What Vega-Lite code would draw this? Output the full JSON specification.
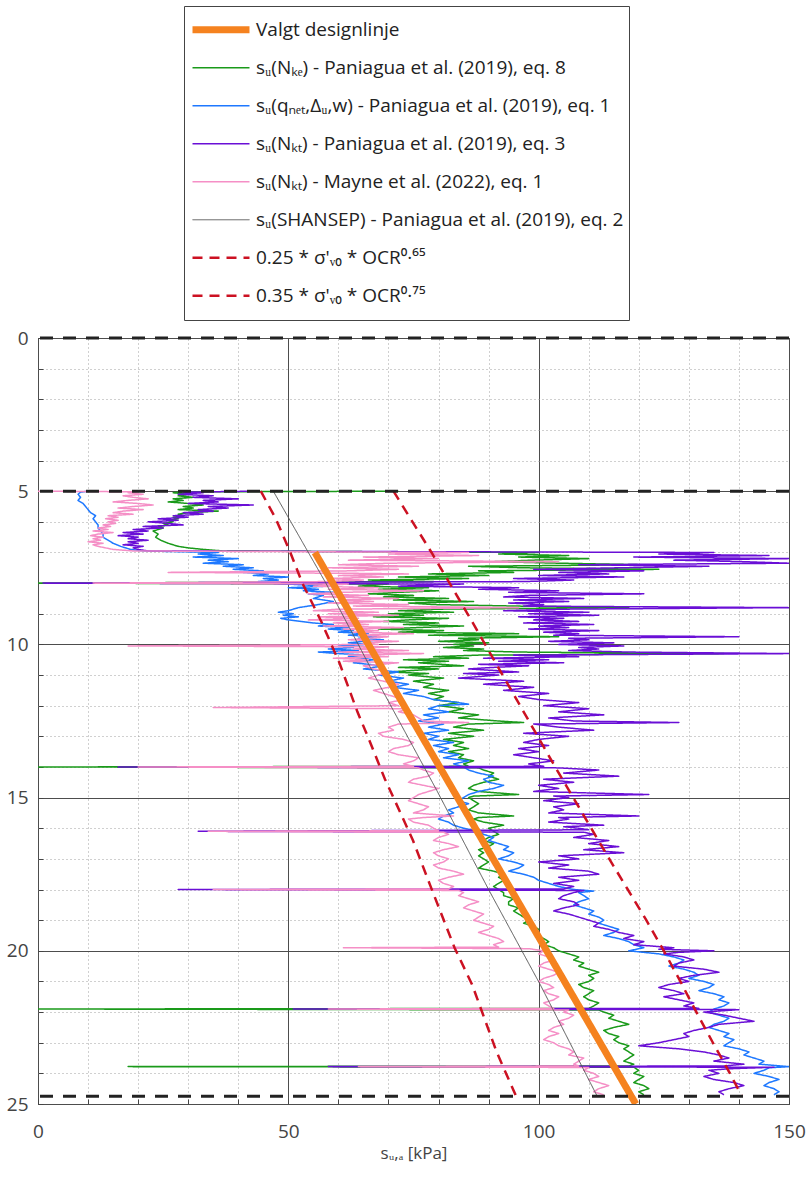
{
"$schema": "https://vega.github.io/schema/vega-lite/v6.json",
"width": 751,
"height": 766,
"autosize": {"type": "none"},
"padding": {"left": 38, "top": 338, "right": 17, "bottom": 76},
"background": "white",
"config": {
  "font": "Open Sans",
  "view": {"stroke": "#333333", "strokeWidth": 1},
  "legend": {"orient": "none", "legendX": 146, "legendY": -332, "title": null, "symbolType": "stroke", "symbolSize": 3249, "clipHeight": 37.5, "rowPadding": 0, "labelFontSize": 19, "labelColor": "#222222", "labelFont": "Open Sans", "labelOffset": 3, "labelLimit": 600, "strokeColor": "#444444", "fillColor": "white", "padding": 5}
},
"datasets": {
"levels": [{"depth": 0}, {"depth": 5}, {"depth": 24.75}],
"curves": [
{"series":"a","depth":7,"su":55.3},{"series":"a","depth":25,"su":119.4},
{"series":"f","depth":5,"su":47},{"series":"f","depth":8,"su":57.5},{"series":"f","depth":11.5,"su":68.8},{"series":"f","depth":14.75,"su":79.6},{"series":"f","depth":18,"su":90},{"series":"f","depth":21.1,"su":100.3},{"series":"f","depth":24.75,"su":111.7},
{"series":"g","depth":5,"su":44.5},{"series":"g","depth":5.9,"su":47.5},{"series":"g","depth":7,"su":50.4},{"series":"g","depth":8,"su":52.8},{"series":"g","depth":9.26,"su":56.6},{"series":"g","depth":10.6,"su":60.2},{"series":"g","depth":12.2,"su":63.8},{"series":"g","depth":13.06,"su":66},{"series":"g","depth":14.4,"su":69.3},{"series":"g","depth":15,"su":71},{"series":"g","depth":16.4,"su":74.9},{"series":"g","depth":17.85,"su":78.3},{"series":"g","depth":19.9,"su":83.2},{"series":"g","depth":21.1,"su":86.7},{"series":"g","depth":23.3,"su":91.6},{"series":"g","depth":24.75,"su":95.5},
{"series":"h","depth":5,"su":71},{"series":"h","depth":6,"su":74.8},{"series":"h","depth":7,"su":78.6},{"series":"h","depth":8,"su":82.2},{"series":"h","depth":9,"su":85.8},{"series":"h","depth":10,"su":89.3},{"series":"h","depth":11,"su":92.8},{"series":"h","depth":12,"su":96.3},{"series":"h","depth":13,"su":99.8},{"series":"h","depth":14,"su":103.3},{"series":"h","depth":15,"su":106.9},{"series":"h","depth":16,"su":110.5},{"series":"h","depth":17,"su":114.1},{"series":"h","depth":18,"su":117.8},{"series":"h","depth":19,"su":121.5},{"series":"h","depth":20,"su":125},{"series":"h","depth":21,"su":128.3},{"series":"h","depth":22,"su":131.5},{"series":"h","depth":23,"su":134.8},{"series":"h","depth":24,"su":138.2},{"series":"h","depth":24.75,"su":140.6},

{"series":"b","depth":5,"su":72},{"series":"b","depth":5.02,"su":29},{"series":"b","depth":5.05,"su":27},{"series":"b","depth":5.1,"su":30},{"series":"b","depth":5.15,"su":28},{"series":"b","depth":5.2,"su":31},{"series":"b","depth":5.25,"su":27},{"series":"b","depth":5.3,"su":29},{"series":"b","depth":5.35,"su":26},{"series":"b","depth":5.4,"su":30},{"series":"b","depth":5.45,"su":33},{"series":"b","depth":5.5,"su":29},{"series":"b","depth":5.55,"su":31},{"series":"b","depth":5.6,"su":28},{"series":"b","depth":5.65,"su":36},{"series":"b","depth":5.7,"su":30},{"series":"b","depth":5.75,"su":28},{"series":"b","depth":5.8,"su":29},{"series":"b","depth":5.85,"su":27},{"series":"b","depth":5.9,"su":28},{"series":"b","depth":5.95,"su":26},{"series":"b","depth":6,"su":27},{"series":"b","depth":6.05,"su":25},{"series":"b","depth":6.1,"su":26},{"series":"b","depth":6.15,"su":24},{"series":"b","depth":6.2,"su":25},{"series":"b","depth":6.25,"su":24},{"series":"b","depth":6.3,"su":23},{"series":"b","depth":6.4,"su":24},{"series":"b","depth":6.5,"su":23.5},{"series":"b","depth":6.6,"su":24.5},{"series":"b","depth":6.7,"su":26},{"series":"b","depth":6.8,"su":28},{"series":"b","depth":6.85,"su":30},{"series":"b","depth":6.9,"su":33},{"series":"b","depth":6.95,"su":37},{"series":"b","depth":7,"su":100},{"series":"b","depth":7.05,"su":92},{"series":"b","depth":7.1,"su":106},{"series":"b","depth":7.15,"su":96},{"series":"b","depth":7.2,"su":110},{"series":"b","depth":7.25,"su":99},{"series":"b","depth":7.3,"su":91},{"series":"b","depth":7.35,"su":104},{"series":"b","depth":7.4,"su":121},{"series":"b","depth":7.45,"su":86},{"series":"b","depth":7.5,"su":97},{"series":"b","depth":7.55,"su":124},{"series":"b","depth":7.6,"su":88},{"series":"b","depth":7.65,"su":95},{"series":"b","depth":7.7,"su":78},{"series":"b","depth":7.75,"su":90},{"series":"b","depth":7.8,"su":72},{"series":"b","depth":7.85,"su":86},{"series":"b","depth":7.9,"su":66},{"series":"b","depth":7.95,"su":79},{"series":"b","depth":8,"su":0},{"series":"b","depth":8.03,"su":70},{"series":"b","depth":8.1,"su":64},{"series":"b","depth":8.15,"su":78},{"series":"b","depth":8.2,"su":68},{"series":"b","depth":8.25,"su":80},{"series":"b","depth":8.3,"su":72},{"series":"b","depth":8.35,"su":66},{"series":"b","depth":8.4,"su":75},{"series":"b","depth":8.45,"su":69},{"series":"b","depth":8.5,"su":82},{"series":"b","depth":8.55,"su":71},{"series":"b","depth":8.6,"su":87},{"series":"b","depth":8.65,"su":74},{"series":"b","depth":8.7,"su":79},{"series":"b","depth":8.75,"su":96},{"series":"b","depth":8.8,"su":118},{"series":"b","depth":8.85,"su":80},{"series":"b","depth":8.9,"su":72},{"series":"b","depth":8.95,"su":83},{"series":"b","depth":9,"su":70},{"series":"b","depth":9.05,"su":77},{"series":"b","depth":9.1,"su":67},{"series":"b","depth":9.15,"su":82},{"series":"b","depth":9.2,"su":74},{"series":"b","depth":9.25,"su":69},{"series":"b","depth":9.3,"su":80},{"series":"b","depth":9.35,"su":73},{"series":"b","depth":9.4,"su":85},{"series":"b","depth":9.45,"su":76},{"series":"b","depth":9.5,"su":68},{"series":"b","depth":9.55,"su":81},{"series":"b","depth":9.6,"su":72},{"series":"b","depth":9.65,"su":96},{"series":"b","depth":9.7,"su":78},{"series":"b","depth":9.75,"su":104},{"series":"b","depth":9.8,"su":84},{"series":"b","depth":9.85,"su":88},{"series":"b","depth":9.9,"su":80},{"series":"b","depth":9.95,"su":90},{"series":"b","depth":10,"su":83},{"series":"b","depth":10.05,"su":87},{"series":"b","depth":10.1,"su":81},{"series":"b","depth":10.15,"su":89},{"series":"b","depth":10.2,"su":85},{"series":"b","depth":10.25,"su":96},{"series":"b","depth":10.3,"su":137},{"series":"b","depth":10.35,"su":88},{"series":"b","depth":10.4,"su":79},{"series":"b","depth":10.45,"su":86},{"series":"b","depth":10.5,"su":73},{"series":"b","depth":10.55,"su":82},{"series":"b","depth":10.6,"su":76},{"series":"b","depth":10.7,"su":85},{"series":"b","depth":10.75,"su":72},{"series":"b","depth":10.8,"su":80},{"series":"b","depth":10.9,"su":70},{"series":"b","depth":10.95,"su":78},{"series":"b","depth":11,"su":74},{"series":"b","depth":11.1,"su":81},{"series":"b","depth":11.2,"su":75},{"series":"b","depth":11.3,"su":79},{"series":"b","depth":11.4,"su":77},{"series":"b","depth":11.5,"su":82},{"series":"b","depth":11.6,"su":78},{"series":"b","depth":11.7,"su":81},{"series":"b","depth":11.8,"su":79},{"series":"b","depth":11.9,"su":84},{"series":"b","depth":12,"su":80},{"series":"b","depth":12.1,"su":85},{"series":"b","depth":12.2,"su":82},{"series":"b","depth":12.3,"su":88},{"series":"b","depth":12.4,"su":84},{"series":"b","depth":12.5,"su":92},{"series":"b","depth":12.55,"su":97},{"series":"b","depth":12.6,"su":86},{"series":"b","depth":12.7,"su":83},{"series":"b","depth":12.8,"su":89},{"series":"b","depth":12.9,"su":82},{"series":"b","depth":13,"su":87},{"series":"b","depth":13.1,"su":81},{"series":"b","depth":13.2,"su":85},{"series":"b","depth":13.3,"su":83},{"series":"b","depth":13.4,"su":86},{"series":"b","depth":13.5,"su":82},{"series":"b","depth":13.6,"su":85},{"series":"b","depth":13.7,"su":84},{"series":"b","depth":13.8,"su":87},{"series":"b","depth":13.9,"su":85},{"series":"b","depth":13.98,"su":86},{"series":"b","depth":14,"su":0},{"series":"b","depth":14.03,"su":88},{"series":"b","depth":14.1,"su":89},{"series":"b","depth":14.2,"su":91},{"series":"b","depth":14.3,"su":90},{"series":"b","depth":14.4,"su":92},{"series":"b","depth":14.5,"su":89},{"series":"b","depth":14.6,"su":87},{"series":"b","depth":14.7,"su":86},{"series":"b","depth":14.8,"su":88},{"series":"b","depth":14.9,"su":96},{"series":"b","depth":14.95,"su":87},{"series":"b","depth":15,"su":86},{"series":"b","depth":15.1,"su":87},{"series":"b","depth":15.2,"su":88},{"series":"b","depth":15.3,"su":87},{"series":"b","depth":15.4,"su":86},{"series":"b","depth":15.5,"su":88},{"series":"b","depth":15.6,"su":95},{"series":"b","depth":15.65,"su":88},{"series":"b","depth":15.7,"su":87},{"series":"b","depth":15.8,"su":89},{"series":"b","depth":15.9,"su":93},{"series":"b","depth":16,"su":90},{"series":"b","depth":16.1,"su":91},{"series":"b","depth":16.2,"su":92},{"series":"b","depth":16.3,"su":90},{"series":"b","depth":16.4,"su":89},{"series":"b","depth":16.5,"su":91},{"series":"b","depth":16.6,"su":90},{"series":"b","depth":16.7,"su":88},{"series":"b","depth":16.8,"su":89},{"series":"b","depth":16.9,"su":88},{"series":"b","depth":17,"su":89},{"series":"b","depth":17.1,"su":90},{"series":"b","depth":17.2,"su":89},{"series":"b","depth":17.3,"su":88},{"series":"b","depth":17.4,"su":91},{"series":"b","depth":17.5,"su":93},{"series":"b","depth":17.6,"su":92},{"series":"b","depth":17.7,"su":93},{"series":"b","depth":17.8,"su":92},{"series":"b","depth":17.9,"su":91},{"series":"b","depth":18,"su":92},{"series":"b","depth":18.1,"su":93},{"series":"b","depth":18.2,"su":93},{"series":"b","depth":18.3,"su":95},{"series":"b","depth":18.4,"su":94},{"series":"b","depth":18.5,"su":94},{"series":"b","depth":18.6,"su":96},{"series":"b","depth":18.7,"su":95},{"series":"b","depth":18.8,"su":96},{"series":"b","depth":18.9,"su":97},{"series":"b","depth":19,"su":98},{"series":"b","depth":19.1,"su":97},{"series":"b","depth":19.2,"su":99},{"series":"b","depth":19.3,"su":100},{"series":"b","depth":19.4,"su":99},{"series":"b","depth":19.5,"su":100},{"series":"b","depth":19.6,"su":101},{"series":"b","depth":19.7,"su":102},{"series":"b","depth":19.8,"su":101},{"series":"b","depth":19.9,"su":103},{"series":"b","depth":20,"su":104},{"series":"b","depth":20.1,"su":106},{"series":"b","depth":20.2,"su":108},{"series":"b","depth":20.3,"su":107},{"series":"b","depth":20.4,"su":109},{"series":"b","depth":20.5,"su":108},{"series":"b","depth":20.6,"su":110},{"series":"b","depth":20.7,"su":112},{"series":"b","depth":20.8,"su":110},{"series":"b","depth":20.9,"su":111},{"series":"b","depth":21,"su":110},{"series":"b","depth":21.1,"su":108},{"series":"b","depth":21.2,"su":109},{"series":"b","depth":21.3,"su":111},{"series":"b","depth":21.4,"su":110},{"series":"b","depth":21.5,"su":109},{"series":"b","depth":21.6,"su":110},{"series":"b","depth":21.7,"su":112},{"series":"b","depth":21.8,"su":111},{"series":"b","depth":21.88,"su":110},{"series":"b","depth":21.9,"su":0},{"series":"b","depth":21.93,"su":112},{"series":"b","depth":22,"su":113},{"series":"b","depth":22.1,"su":115},{"series":"b","depth":22.2,"su":114},{"series":"b","depth":22.3,"su":116},{"series":"b","depth":22.4,"su":118},{"series":"b","depth":22.5,"su":115},{"series":"b","depth":22.6,"su":113},{"series":"b","depth":22.7,"su":114},{"series":"b","depth":22.8,"su":116},{"series":"b","depth":22.9,"su":115},{"series":"b","depth":23,"su":116},{"series":"b","depth":23.1,"su":118},{"series":"b","depth":23.2,"su":117},{"series":"b","depth":23.3,"su":118},{"series":"b","depth":23.4,"su":119},{"series":"b","depth":23.5,"su":118},{"series":"b","depth":23.6,"su":117},{"series":"b","depth":23.7,"su":119},{"series":"b","depth":23.76,"su":118},{"series":"b","depth":23.78,"su":18},{"series":"b","depth":23.8,"su":119},{"series":"b","depth":23.9,"su":120},{"series":"b","depth":24,"su":119},{"series":"b","depth":24.1,"su":121},{"series":"b","depth":24.2,"su":120},{"series":"b","depth":24.3,"su":119},{"series":"b","depth":24.4,"su":121},{"series":"b","depth":24.5,"su":122},{"series":"b","depth":24.6,"su":120},{"series":"b","depth":24.7,"su":121},

{"series":"c","depth":5,"su":10},{"series":"c","depth":5.03,"su":8.5},{"series":"c","depth":5.1,"su":8},{"series":"c","depth":5.2,"su":8.5},{"series":"c","depth":5.3,"su":8},{"series":"c","depth":5.4,"su":9},{"series":"c","depth":5.5,"su":9.5},{"series":"c","depth":5.6,"su":10},{"series":"c","depth":5.7,"su":10.5},{"series":"c","depth":5.8,"su":11.5},{"series":"c","depth":5.9,"su":11},{"series":"c","depth":6,"su":11.5},{"series":"c","depth":6.1,"su":12},{"series":"c","depth":6.2,"su":12},{"series":"c","depth":6.3,"su":12.5},{"series":"c","depth":6.4,"su":13},{"series":"c","depth":6.5,"su":13},{"series":"c","depth":6.6,"su":14},{"series":"c","depth":6.7,"su":15},{"series":"c","depth":6.8,"su":16.5},{"series":"c","depth":6.9,"su":18.5},{"series":"c","depth":6.95,"su":21},{"series":"c","depth":7,"su":36},{"series":"c","depth":7.05,"su":32},{"series":"c","depth":7.1,"su":37},{"series":"c","depth":7.15,"su":31},{"series":"c","depth":7.2,"su":40},{"series":"c","depth":7.25,"su":34},{"series":"c","depth":7.3,"su":38},{"series":"c","depth":7.35,"su":33},{"series":"c","depth":7.4,"su":41},{"series":"c","depth":7.45,"su":37},{"series":"c","depth":7.5,"su":43},{"series":"c","depth":7.55,"su":39},{"series":"c","depth":7.6,"su":45},{"series":"c","depth":7.65,"su":41},{"series":"c","depth":7.7,"su":46},{"series":"c","depth":7.75,"su":43},{"series":"c","depth":7.8,"su":50},{"series":"c","depth":7.85,"su":45},{"series":"c","depth":7.9,"su":48},{"series":"c","depth":7.95,"su":44},{"series":"c","depth":8,"su":47},{"series":"c","depth":8.05,"su":52},{"series":"c","depth":8.1,"su":58},{"series":"c","depth":8.15,"su":50},{"series":"c","depth":8.2,"su":56},{"series":"c","depth":8.25,"su":53},{"series":"c","depth":8.3,"su":59},{"series":"c","depth":8.35,"su":54},{"series":"c","depth":8.4,"su":57},{"series":"c","depth":8.5,"su":55},{"series":"c","depth":8.6,"su":59},{"series":"c","depth":8.7,"su":56},{"series":"c","depth":8.8,"su":52},{"series":"c","depth":8.9,"su":50},{"series":"c","depth":8.95,"su":48},{"series":"c","depth":9,"su":51},{"series":"c","depth":9.05,"su":49},{"series":"c","depth":9.1,"su":52},{"series":"c","depth":9.15,"su":48.5},{"series":"c","depth":9.2,"su":50},{"series":"c","depth":9.3,"su":55},{"series":"c","depth":9.35,"su":59},{"series":"c","depth":9.4,"su":56},{"series":"c","depth":9.45,"su":62},{"series":"c","depth":9.5,"su":58},{"series":"c","depth":9.55,"su":63},{"series":"c","depth":9.6,"su":60},{"series":"c","depth":9.65,"su":66},{"series":"c","depth":9.7,"su":62},{"series":"c","depth":9.75,"su":68},{"series":"c","depth":9.8,"su":64},{"series":"c","depth":9.85,"su":69},{"series":"c","depth":9.9,"su":65},{"series":"c","depth":9.95,"su":62},{"series":"c","depth":10,"su":66},{"series":"c","depth":10.05,"su":60},{"series":"c","depth":10.1,"su":63},{"series":"c","depth":10.15,"su":58},{"series":"c","depth":10.2,"su":64},{"series":"c","depth":10.25,"su":56},{"series":"c","depth":10.3,"su":60},{"series":"c","depth":10.35,"su":66},{"series":"c","depth":10.4,"su":62},{"series":"c","depth":10.5,"su":67},{"series":"c","depth":10.6,"su":63},{"series":"c","depth":10.7,"su":69},{"series":"c","depth":10.8,"su":65},{"series":"c","depth":10.9,"su":72},{"series":"c","depth":11,"su":68},{"series":"c","depth":11.1,"su":73},{"series":"c","depth":11.2,"su":70},{"series":"c","depth":11.3,"su":74},{"series":"c","depth":11.4,"su":71},{"series":"c","depth":11.5,"su":76},{"series":"c","depth":11.6,"su":73},{"series":"c","depth":11.7,"su":77},{"series":"c","depth":11.8,"su":79},{"series":"c","depth":11.9,"su":84},{"series":"c","depth":11.95,"su":86},{"series":"c","depth":12,"su":80},{"series":"c","depth":12.1,"su":78},{"series":"c","depth":12.2,"su":82},{"series":"c","depth":12.3,"su":77},{"series":"c","depth":12.4,"su":80},{"series":"c","depth":12.5,"su":76},{"series":"c","depth":12.6,"su":81},{"series":"c","depth":12.7,"su":78},{"series":"c","depth":12.8,"su":82},{"series":"c","depth":12.9,"su":77},{"series":"c","depth":13,"su":80},{"series":"c","depth":13.1,"su":78},{"series":"c","depth":13.2,"su":83},{"series":"c","depth":13.3,"su":79},{"series":"c","depth":13.4,"su":82},{"series":"c","depth":13.5,"su":80},{"series":"c","depth":13.6,"su":84},{"series":"c","depth":13.7,"su":81},{"series":"c","depth":13.8,"su":86},{"series":"c","depth":13.9,"su":83},{"series":"c","depth":14,"su":85},{"series":"c","depth":14.1,"su":86},{"series":"c","depth":14.2,"su":88},{"series":"c","depth":14.3,"su":91},{"series":"c","depth":14.4,"su":89},{"series":"c","depth":14.5,"su":90},{"series":"c","depth":14.6,"su":93},{"series":"c","depth":14.7,"su":91},{"series":"c","depth":14.8,"su":88},{"series":"c","depth":14.9,"su":86},{"series":"c","depth":15,"su":85},{"series":"c","depth":15.1,"su":84},{"series":"c","depth":15.2,"su":86},{"series":"c","depth":15.3,"su":84},{"series":"c","depth":15.4,"su":82},{"series":"c","depth":15.5,"su":83},{"series":"c","depth":15.6,"su":81},{"series":"c","depth":15.7,"su":80},{"series":"c","depth":15.8,"su":82},{"series":"c","depth":15.9,"su":83},{"series":"c","depth":16,"su":85},{"series":"c","depth":16.1,"su":88},{"series":"c","depth":16.2,"su":89},{"series":"c","depth":16.3,"su":91},{"series":"c","depth":16.4,"su":90},{"series":"c","depth":16.5,"su":92},{"series":"c","depth":16.6,"su":94},{"series":"c","depth":16.7,"su":93},{"series":"c","depth":16.8,"su":95},{"series":"c","depth":16.9,"su":94},{"series":"c","depth":17,"su":92},{"series":"c","depth":17.1,"su":95},{"series":"c","depth":17.2,"su":97},{"series":"c","depth":17.3,"su":96},{"series":"c","depth":17.4,"su":94},{"series":"c","depth":17.5,"su":97},{"series":"c","depth":17.6,"su":99},{"series":"c","depth":17.7,"su":100},{"series":"c","depth":17.8,"su":102},{"series":"c","depth":17.9,"su":104},{"series":"c","depth":18,"su":107},{"series":"c","depth":18.05,"su":111},{"series":"c","depth":18.1,"su":108},{"series":"c","depth":18.2,"su":109},{"series":"c","depth":18.3,"su":110},{"series":"c","depth":18.4,"su":108},{"series":"c","depth":18.5,"su":107},{"series":"c","depth":18.6,"su":109},{"series":"c","depth":18.7,"su":111},{"series":"c","depth":18.8,"su":110},{"series":"c","depth":18.9,"su":112},{"series":"c","depth":19,"su":113},{"series":"c","depth":19.1,"su":112},{"series":"c","depth":19.2,"su":114},{"series":"c","depth":19.3,"su":116},{"series":"c","depth":19.4,"su":115},{"series":"c","depth":19.5,"su":113},{"series":"c","depth":19.6,"su":116},{"series":"c","depth":19.7,"su":118},{"series":"c","depth":19.8,"su":119},{"series":"c","depth":19.9,"su":121},{"series":"c","depth":20,"su":118},{"series":"c","depth":20.1,"su":124},{"series":"c","depth":20.2,"su":127},{"series":"c","depth":20.3,"su":129},{"series":"c","depth":20.4,"su":128},{"series":"c","depth":20.5,"su":126},{"series":"c","depth":20.6,"su":129},{"series":"c","depth":20.7,"su":131},{"series":"c","depth":20.8,"su":132},{"series":"c","depth":20.9,"su":130},{"series":"c","depth":21,"su":133},{"series":"c","depth":21.1,"su":135},{"series":"c","depth":21.2,"su":134},{"series":"c","depth":21.3,"su":132},{"series":"c","depth":21.4,"su":135},{"series":"c","depth":21.5,"su":137},{"series":"c","depth":21.6,"su":136},{"series":"c","depth":21.7,"su":138},{"series":"c","depth":21.8,"su":137},{"series":"c","depth":21.9,"su":135},{"series":"c","depth":22,"su":134},{"series":"c","depth":22.1,"su":136},{"series":"c","depth":22.2,"su":138},{"series":"c","depth":22.3,"su":137},{"series":"c","depth":22.4,"su":135},{"series":"c","depth":22.5,"su":134},{"series":"c","depth":22.6,"su":136},{"series":"c","depth":22.7,"su":138},{"series":"c","depth":22.8,"su":137},{"series":"c","depth":22.9,"su":139},{"series":"c","depth":23,"su":138},{"series":"c","depth":23.1,"su":137},{"series":"c","depth":23.2,"su":140},{"series":"c","depth":23.3,"su":142},{"series":"c","depth":23.4,"su":141},{"series":"c","depth":23.5,"su":143},{"series":"c","depth":23.6,"su":145},{"series":"c","depth":23.7,"su":144},{"series":"c","depth":23.78,"su":150},{"series":"c","depth":23.82,"su":146},{"series":"c","depth":23.9,"su":145},{"series":"c","depth":24,"su":143},{"series":"c","depth":24.1,"su":146},{"series":"c","depth":24.2,"su":148},{"series":"c","depth":24.3,"su":146},{"series":"c","depth":24.4,"su":145},{"series":"c","depth":24.5,"su":147},{"series":"c","depth":24.6,"su":148},{"series":"c","depth":24.7,"su":147},

{"series":"d","depth":5,"su":43},{"series":"d","depth":5.03,"su":29},{"series":"d","depth":5.05,"su":33},{"series":"d","depth":5.1,"su":28},{"series":"d","depth":5.15,"su":35},{"series":"d","depth":5.2,"su":31},{"series":"d","depth":5.25,"su":40},{"series":"d","depth":5.3,"su":33},{"series":"d","depth":5.35,"su":36},{"series":"d","depth":5.4,"su":30},{"series":"d","depth":5.45,"su":43},{"series":"d","depth":5.5,"su":34},{"series":"d","depth":5.55,"su":38},{"series":"d","depth":5.6,"su":32},{"series":"d","depth":5.65,"su":35},{"series":"d","depth":5.7,"su":29},{"series":"d","depth":5.75,"su":33},{"series":"d","depth":5.8,"su":27},{"series":"d","depth":5.85,"su":30},{"series":"d","depth":5.9,"su":24},{"series":"d","depth":5.95,"su":28},{"series":"d","depth":6,"su":22},{"series":"d","depth":6.05,"su":26},{"series":"d","depth":6.1,"su":29},{"series":"d","depth":6.15,"su":21},{"series":"d","depth":6.2,"su":25},{"series":"d","depth":6.25,"su":19},{"series":"d","depth":6.3,"su":22},{"series":"d","depth":6.35,"su":17},{"series":"d","depth":6.4,"su":21},{"series":"d","depth":6.45,"su":16},{"series":"d","depth":6.5,"su":20},{"series":"d","depth":6.55,"su":18},{"series":"d","depth":6.6,"su":22},{"series":"d","depth":6.65,"su":18},{"series":"d","depth":6.7,"su":20},{"series":"d","depth":6.75,"su":17},{"series":"d","depth":6.8,"su":21},{"series":"d","depth":6.85,"su":19},{"series":"d","depth":6.9,"su":20},{"series":"d","depth":6.95,"su":22},{"series":"d","depth":7,"su":135},{"series":"d","depth":7.05,"su":124},{"series":"d","depth":7.1,"su":146},{"series":"d","depth":7.15,"su":119},{"series":"d","depth":7.2,"su":150},{"series":"d","depth":7.25,"su":127},{"series":"d","depth":7.3,"su":141},{"series":"d","depth":7.35,"su":150},{"series":"d","depth":7.4,"su":108},{"series":"d","depth":7.45,"su":134},{"series":"d","depth":7.5,"su":116},{"series":"d","depth":7.55,"su":99},{"series":"d","depth":7.6,"su":121},{"series":"d","depth":7.65,"su":104},{"series":"d","depth":7.7,"su":114},{"series":"d","depth":7.75,"su":100},{"series":"d","depth":7.8,"su":117},{"series":"d","depth":7.85,"su":95},{"series":"d","depth":7.9,"su":107},{"series":"d","depth":7.95,"su":97},{"series":"d","depth":8,"su":1},{"series":"d","depth":8.03,"su":85},{"series":"d","depth":8.1,"su":72},{"series":"d","depth":8.15,"su":96},{"series":"d","depth":8.2,"su":88},{"series":"d","depth":8.25,"su":104},{"series":"d","depth":8.3,"su":94},{"series":"d","depth":8.35,"su":121},{"series":"d","depth":8.4,"su":98},{"series":"d","depth":8.45,"su":93},{"series":"d","depth":8.5,"su":109},{"series":"d","depth":8.55,"su":95},{"series":"d","depth":8.6,"su":106},{"series":"d","depth":8.65,"su":94},{"series":"d","depth":8.7,"su":101},{"series":"d","depth":8.75,"su":97},{"series":"d","depth":8.8,"su":150},{"series":"d","depth":8.85,"su":105},{"series":"d","depth":8.9,"su":93},{"series":"d","depth":8.95,"su":110},{"series":"d","depth":9,"su":98},{"series":"d","depth":9.05,"su":112},{"series":"d","depth":9.1,"su":96},{"series":"d","depth":9.15,"su":105},{"series":"d","depth":9.2,"su":99},{"series":"d","depth":9.25,"su":108},{"series":"d","depth":9.3,"su":97},{"series":"d","depth":9.35,"su":111},{"series":"d","depth":9.4,"su":100},{"series":"d","depth":9.45,"su":106},{"series":"d","depth":9.5,"su":98},{"series":"d","depth":9.55,"su":112},{"series":"d","depth":9.6,"su":101},{"series":"d","depth":9.65,"su":108},{"series":"d","depth":9.7,"su":103},{"series":"d","depth":9.75,"su":140},{"series":"d","depth":9.8,"su":106},{"series":"d","depth":9.85,"su":110},{"series":"d","depth":9.9,"su":102},{"series":"d","depth":9.95,"su":115},{"series":"d","depth":10,"su":104},{"series":"d","depth":10.05,"su":117},{"series":"d","depth":10.1,"su":108},{"series":"d","depth":10.15,"su":112},{"series":"d","depth":10.2,"su":106},{"series":"d","depth":10.25,"su":118},{"series":"d","depth":10.3,"su":150},{"series":"d","depth":10.35,"su":95},{"series":"d","depth":10.4,"su":108},{"series":"d","depth":10.45,"su":89},{"series":"d","depth":10.5,"su":102},{"series":"d","depth":10.55,"su":92},{"series":"d","depth":10.6,"su":105},{"series":"d","depth":10.65,"su":88},{"series":"d","depth":10.7,"su":98},{"series":"d","depth":10.75,"su":91},{"series":"d","depth":10.8,"su":86},{"series":"d","depth":10.9,"su":96},{"series":"d","depth":10.95,"su":85},{"series":"d","depth":11,"su":92},{"series":"d","depth":11.1,"su":84},{"series":"d","depth":11.2,"su":97},{"series":"d","depth":11.3,"su":89},{"series":"d","depth":11.4,"su":99},{"series":"d","depth":11.5,"su":93},{"series":"d","depth":11.6,"su":102},{"series":"d","depth":11.7,"su":96},{"series":"d","depth":11.8,"su":100},{"series":"d","depth":11.9,"su":108},{"series":"d","depth":12,"su":101},{"series":"d","depth":12.1,"su":110},{"series":"d","depth":12.2,"su":104},{"series":"d","depth":12.3,"su":113},{"series":"d","depth":12.4,"su":102},{"series":"d","depth":12.5,"su":107},{"series":"d","depth":12.55,"su":128},{"series":"d","depth":12.6,"su":99},{"series":"d","depth":12.7,"su":104},{"series":"d","depth":12.8,"su":111},{"series":"d","depth":12.9,"su":97},{"series":"d","depth":13,"su":106},{"series":"d","depth":13.1,"su":100},{"series":"d","depth":13.2,"su":97},{"series":"d","depth":13.3,"su":102},{"series":"d","depth":13.4,"su":96},{"series":"d","depth":13.5,"su":100},{"series":"d","depth":13.6,"su":95},{"series":"d","depth":13.7,"su":99},{"series":"d","depth":13.8,"su":103},{"series":"d","depth":13.9,"su":98},{"series":"d","depth":13.98,"su":101},{"series":"d","depth":14,"su":16},{"series":"d","depth":14.03,"su":104},{"series":"d","depth":14.1,"su":112},{"series":"d","depth":14.2,"su":105},{"series":"d","depth":14.3,"su":116},{"series":"d","depth":14.4,"su":101},{"series":"d","depth":14.5,"su":107},{"series":"d","depth":14.6,"su":100},{"series":"d","depth":14.7,"su":104},{"series":"d","depth":14.8,"su":99},{"series":"d","depth":14.9,"su":122},{"series":"d","depth":14.95,"su":103},{"series":"d","depth":15,"su":106},{"series":"d","depth":15.1,"su":101},{"series":"d","depth":15.2,"su":108},{"series":"d","depth":15.3,"su":103},{"series":"d","depth":15.4,"su":105},{"series":"d","depth":15.5,"su":102},{"series":"d","depth":15.6,"su":120},{"series":"d","depth":15.65,"su":104},{"series":"d","depth":15.7,"su":106},{"series":"d","depth":15.8,"su":102},{"series":"d","depth":15.9,"su":113},{"series":"d","depth":15.95,"su":105},{"series":"d","depth":16,"su":108},{"series":"d","depth":16.05,"su":110},{"series":"d","depth":16.1,"su":32},{"series":"d","depth":16.13,"su":109},{"series":"d","depth":16.2,"su":111},{"series":"d","depth":16.3,"su":107},{"series":"d","depth":16.4,"su":114},{"series":"d","depth":16.5,"su":110},{"series":"d","depth":16.6,"su":116},{"series":"d","depth":16.7,"su":109},{"series":"d","depth":16.8,"su":117},{"series":"d","depth":16.9,"su":104},{"series":"d","depth":17,"su":108},{"series":"d","depth":17.1,"su":100},{"series":"d","depth":17.2,"su":106},{"series":"d","depth":17.3,"su":102},{"series":"d","depth":17.4,"su":110},{"series":"d","depth":17.5,"su":112},{"series":"d","depth":17.6,"su":104},{"series":"d","depth":17.7,"su":108},{"series":"d","depth":17.8,"su":103},{"series":"d","depth":17.9,"su":107},{"series":"d","depth":17.98,"su":105},{"series":"d","depth":18,"su":28},{"series":"d","depth":18.03,"su":109},{"series":"d","depth":18.1,"su":107},{"series":"d","depth":18.2,"su":105},{"series":"d","depth":18.3,"su":104},{"series":"d","depth":18.4,"su":107},{"series":"d","depth":18.5,"su":108},{"series":"d","depth":18.6,"su":105},{"series":"d","depth":18.7,"su":103},{"series":"d","depth":18.8,"su":106},{"series":"d","depth":18.9,"su":108},{"series":"d","depth":19,"su":110},{"series":"d","depth":19.1,"su":112},{"series":"d","depth":19.2,"su":111},{"series":"d","depth":19.3,"su":114},{"series":"d","depth":19.4,"su":116},{"series":"d","depth":19.5,"su":119},{"series":"d","depth":19.6,"su":117},{"series":"d","depth":19.7,"su":121},{"series":"d","depth":19.8,"su":119},{"series":"d","depth":19.9,"su":127},{"series":"d","depth":19.95,"su":124},{"series":"d","depth":20,"su":135},{"series":"d","depth":20.05,"su":128},{"series":"d","depth":20.1,"su":125},{"series":"d","depth":20.2,"su":129},{"series":"d","depth":20.3,"su":131},{"series":"d","depth":20.4,"su":128},{"series":"d","depth":20.5,"su":127},{"series":"d","depth":20.6,"su":133},{"series":"d","depth":20.7,"su":136},{"series":"d","depth":20.8,"su":131},{"series":"d","depth":20.9,"su":128},{"series":"d","depth":21,"su":130},{"series":"d","depth":21.1,"su":126},{"series":"d","depth":21.2,"su":124},{"series":"d","depth":21.3,"su":127},{"series":"d","depth":21.4,"su":129},{"series":"d","depth":21.5,"su":125},{"series":"d","depth":21.6,"su":128},{"series":"d","depth":21.7,"su":131},{"series":"d","depth":21.8,"su":129},{"series":"d","depth":21.88,"su":132},{"series":"d","depth":21.9,"su":51},{"series":"d","depth":21.92,"su":140},{"series":"d","depth":22,"su":133},{"series":"d","depth":22.1,"su":137},{"series":"d","depth":22.2,"su":140},{"series":"d","depth":22.3,"su":143},{"series":"d","depth":22.4,"su":136},{"series":"d","depth":22.5,"su":134},{"series":"d","depth":22.6,"su":131},{"series":"d","depth":22.7,"su":129},{"series":"d","depth":22.8,"su":130},{"series":"d","depth":22.9,"su":127},{"series":"d","depth":23,"su":124},{"series":"d","depth":23.1,"su":120},{"series":"d","depth":23.2,"su":128},{"series":"d","depth":23.3,"su":133},{"series":"d","depth":23.4,"su":136},{"series":"d","depth":23.5,"su":138},{"series":"d","depth":23.6,"su":135},{"series":"d","depth":23.7,"su":141},{"series":"d","depth":23.76,"su":137},{"series":"d","depth":23.78,"su":58},{"series":"d","depth":23.8,"su":147},{"series":"d","depth":23.85,"su":138},{"series":"d","depth":23.9,"su":134},{"series":"d","depth":24,"su":136},{"series":"d","depth":24.1,"su":133},{"series":"d","depth":24.2,"su":135},{"series":"d","depth":24.3,"su":139},{"series":"d","depth":24.4,"su":141},{"series":"d","depth":24.5,"su":138},{"series":"d","depth":24.6,"su":136},{"series":"d","depth":24.7,"su":137},

{"series":"e","depth":5,"su":0},{"series":"e","depth":5.02,"su":20},{"series":"e","depth":5.05,"su":18},{"series":"e","depth":5.1,"su":21},{"series":"e","depth":5.15,"su":17},{"series":"e","depth":5.2,"su":19},{"series":"e","depth":5.25,"su":22},{"series":"e","depth":5.3,"su":18},{"series":"e","depth":5.35,"su":15},{"series":"e","depth":5.4,"su":20},{"series":"e","depth":5.45,"su":23},{"series":"e","depth":5.5,"su":19},{"series":"e","depth":5.55,"su":16},{"series":"e","depth":5.6,"su":21},{"series":"e","depth":5.65,"su":17},{"series":"e","depth":5.7,"su":15},{"series":"e","depth":5.75,"su":19},{"series":"e","depth":5.8,"su":14},{"series":"e","depth":5.85,"su":16},{"series":"e","depth":5.9,"su":13.5},{"series":"e","depth":5.95,"su":16},{"series":"e","depth":6,"su":14},{"series":"e","depth":6.05,"su":15.5},{"series":"e","depth":6.1,"su":13},{"series":"e","depth":6.15,"su":14.5},{"series":"e","depth":6.2,"su":12},{"series":"e","depth":6.25,"su":14},{"series":"e","depth":6.3,"su":11},{"series":"e","depth":6.35,"su":15},{"series":"e","depth":6.4,"su":12},{"series":"e","depth":6.45,"su":10.5},{"series":"e","depth":6.5,"su":13},{"series":"e","depth":6.55,"su":11},{"series":"e","depth":6.6,"su":12.5},{"series":"e","depth":6.65,"su":10},{"series":"e","depth":6.7,"su":13},{"series":"e","depth":6.75,"su":11},{"series":"e","depth":6.8,"su":12},{"series":"e","depth":6.85,"su":13.5},{"series":"e","depth":6.9,"su":15},{"series":"e","depth":6.95,"su":19},{"series":"e","depth":7,"su":86},{"series":"e","depth":7.05,"su":70},{"series":"e","depth":7.1,"su":88},{"series":"e","depth":7.15,"su":65},{"series":"e","depth":7.2,"su":80},{"series":"e","depth":7.25,"su":62},{"series":"e","depth":7.3,"su":104},{"series":"e","depth":7.35,"su":70},{"series":"e","depth":7.4,"su":60},{"series":"e","depth":7.45,"su":76},{"series":"e","depth":7.5,"su":58},{"series":"e","depth":7.55,"su":72},{"series":"e","depth":7.6,"su":62},{"series":"e","depth":7.65,"su":26},{"series":"e","depth":7.68,"su":63},{"series":"e","depth":7.7,"su":74},{"series":"e","depth":7.75,"su":60},{"series":"e","depth":7.8,"su":69},{"series":"e","depth":7.85,"su":58},{"series":"e","depth":7.9,"su":65},{"series":"e","depth":7.95,"su":57},{"series":"e","depth":8,"su":11},{"series":"e","depth":8.03,"su":62},{"series":"e","depth":8.1,"su":55},{"series":"e","depth":8.15,"su":68},{"series":"e","depth":8.2,"su":58},{"series":"e","depth":8.25,"su":77},{"series":"e","depth":8.3,"su":61},{"series":"e","depth":8.35,"su":54},{"series":"e","depth":8.4,"su":66},{"series":"e","depth":8.45,"su":57},{"series":"e","depth":8.5,"su":72},{"series":"e","depth":8.55,"su":60},{"series":"e","depth":8.6,"su":67},{"series":"e","depth":8.65,"su":58},{"series":"e","depth":8.7,"su":74},{"series":"e","depth":8.75,"su":63},{"series":"e","depth":8.8,"su":96},{"series":"e","depth":8.85,"su":60},{"series":"e","depth":8.9,"su":55},{"series":"e","depth":8.95,"su":68},{"series":"e","depth":9,"su":58},{"series":"e","depth":9.05,"su":72},{"series":"e","depth":9.1,"su":56},{"series":"e","depth":9.15,"su":64},{"series":"e","depth":9.2,"su":54},{"series":"e","depth":9.25,"su":70},{"series":"e","depth":9.3,"su":59},{"series":"e","depth":9.35,"su":66},{"series":"e","depth":9.4,"su":57},{"series":"e","depth":9.45,"su":73},{"series":"e","depth":9.5,"su":61},{"series":"e","depth":9.55,"su":68},{"series":"e","depth":9.6,"su":63},{"series":"e","depth":9.65,"su":75},{"series":"e","depth":9.7,"su":64},{"series":"e","depth":9.75,"su":70},{"series":"e","depth":9.8,"su":66},{"series":"e","depth":9.85,"su":62},{"series":"e","depth":9.9,"su":72},{"series":"e","depth":9.95,"su":65},{"series":"e","depth":10,"su":68},{"series":"e","depth":10.05,"su":18},{"series":"e","depth":10.08,"su":70},{"series":"e","depth":10.15,"su":63},{"series":"e","depth":10.2,"su":74},{"series":"e","depth":10.25,"su":60},{"series":"e","depth":10.3,"su":77},{"series":"e","depth":10.35,"su":62},{"series":"e","depth":10.4,"su":70},{"series":"e","depth":10.45,"su":59},{"series":"e","depth":10.5,"su":66},{"series":"e","depth":10.55,"su":61},{"series":"e","depth":10.6,"su":72},{"series":"e","depth":10.7,"su":65},{"series":"e","depth":10.8,"su":67},{"series":"e","depth":10.9,"su":70},{"series":"e","depth":11,"su":68},{"series":"e","depth":11.1,"su":66},{"series":"e","depth":11.2,"su":69},{"series":"e","depth":11.3,"su":72},{"series":"e","depth":11.4,"su":70},{"series":"e","depth":11.5,"su":67},{"series":"e","depth":11.6,"su":69},{"series":"e","depth":11.7,"su":71},{"series":"e","depth":11.8,"su":73},{"series":"e","depth":11.9,"su":70},{"series":"e","depth":12,"su":72},{"series":"e","depth":12.06,"su":35},{"series":"e","depth":12.1,"su":74},{"series":"e","depth":12.2,"su":72},{"series":"e","depth":12.3,"su":75},{"series":"e","depth":12.4,"su":76},{"series":"e","depth":12.5,"su":77},{"series":"e","depth":12.55,"su":86},{"series":"e","depth":12.6,"su":72},{"series":"e","depth":12.7,"su":70},{"series":"e","depth":12.8,"su":71},{"series":"e","depth":12.9,"su":68},{"series":"e","depth":13,"su":69},{"series":"e","depth":13.1,"su":73},{"series":"e","depth":13.2,"su":75},{"series":"e","depth":13.3,"su":74},{"series":"e","depth":13.4,"su":71},{"series":"e","depth":13.5,"su":70},{"series":"e","depth":13.6,"su":72},{"series":"e","depth":13.7,"su":76},{"series":"e","depth":13.8,"su":75},{"series":"e","depth":13.9,"su":73},{"series":"e","depth":13.98,"su":75},{"series":"e","depth":14,"su":20},{"series":"e","depth":14.03,"su":76},{"series":"e","depth":14.1,"su":77},{"series":"e","depth":14.2,"su":79},{"series":"e","depth":14.3,"su":78},{"series":"e","depth":14.4,"su":75},{"series":"e","depth":14.5,"su":74},{"series":"e","depth":14.6,"su":77},{"series":"e","depth":14.7,"su":80},{"series":"e","depth":14.8,"su":78},{"series":"e","depth":14.9,"su":76},{"series":"e","depth":15,"su":75},{"series":"e","depth":15.1,"su":74},{"series":"e","depth":15.2,"su":76},{"series":"e","depth":15.3,"su":78},{"series":"e","depth":15.4,"su":77},{"series":"e","depth":15.5,"su":75},{"series":"e","depth":15.6,"su":83},{"series":"e","depth":15.65,"su":77},{"series":"e","depth":15.7,"su":74},{"series":"e","depth":15.8,"su":75},{"series":"e","depth":15.9,"su":78},{"series":"e","depth":16,"su":79},{"series":"e","depth":16.08,"su":80},{"series":"e","depth":16.1,"su":34},{"series":"e","depth":16.13,"su":81},{"series":"e","depth":16.2,"su":82},{"series":"e","depth":16.3,"su":80},{"series":"e","depth":16.4,"su":79},{"series":"e","depth":16.5,"su":82},{"series":"e","depth":16.6,"su":84},{"series":"e","depth":16.7,"su":81},{"series":"e","depth":16.8,"su":79},{"series":"e","depth":16.9,"su":80},{"series":"e","depth":17,"su":82},{"series":"e","depth":17.1,"su":81},{"series":"e","depth":17.2,"su":79},{"series":"e","depth":17.3,"su":80},{"series":"e","depth":17.4,"su":83},{"series":"e","depth":17.5,"su":85},{"series":"e","depth":17.6,"su":82},{"series":"e","depth":17.7,"su":80},{"series":"e","depth":17.8,"su":81},{"series":"e","depth":17.9,"su":83},{"series":"e","depth":17.98,"su":82},{"series":"e","depth":18,"su":35},{"series":"e","depth":18.03,"su":84},{"series":"e","depth":18.1,"su":85},{"series":"e","depth":18.2,"su":84},{"series":"e","depth":18.3,"su":86},{"series":"e","depth":18.4,"su":88},{"series":"e","depth":18.5,"su":86},{"series":"e","depth":18.6,"su":85},{"series":"e","depth":18.7,"su":87},{"series":"e","depth":18.8,"su":89},{"series":"e","depth":18.9,"su":88},{"series":"e","depth":19,"su":87},{"series":"e","depth":19.1,"su":89},{"series":"e","depth":19.2,"su":91},{"series":"e","depth":19.3,"su":90},{"series":"e","depth":19.4,"su":88},{"series":"e","depth":19.5,"su":90},{"series":"e","depth":19.6,"su":92},{"series":"e","depth":19.7,"su":93},{"series":"e","depth":19.8,"su":91},{"series":"e","depth":19.88,"su":92},{"series":"e","depth":19.9,"su":61},{"series":"e","depth":19.93,"su":98},{"series":"e","depth":20,"su":101},{"series":"e","depth":20.1,"su":100},{"series":"e","depth":20.2,"su":102},{"series":"e","depth":20.3,"su":103},{"series":"e","depth":20.4,"su":101},{"series":"e","depth":20.5,"su":100},{"series":"e","depth":20.6,"su":102},{"series":"e","depth":20.7,"su":104},{"series":"e","depth":20.8,"su":103},{"series":"e","depth":20.9,"su":101},{"series":"e","depth":21,"su":100},{"series":"e","depth":21.1,"su":102},{"series":"e","depth":21.2,"su":103},{"series":"e","depth":21.3,"su":101},{"series":"e","depth":21.4,"su":102},{"series":"e","depth":21.5,"su":104},{"series":"e","depth":21.6,"su":103},{"series":"e","depth":21.7,"su":101},{"series":"e","depth":21.8,"su":102},{"series":"e","depth":21.88,"su":103},{"series":"e","depth":21.9,"su":58},{"series":"e","depth":21.93,"su":106},{"series":"e","depth":22,"su":105},{"series":"e","depth":22.1,"su":107},{"series":"e","depth":22.2,"su":106},{"series":"e","depth":22.3,"su":104},{"series":"e","depth":22.4,"su":105},{"series":"e","depth":22.5,"su":103},{"series":"e","depth":22.6,"su":102},{"series":"e","depth":22.7,"su":104},{"series":"e","depth":22.8,"su":102},{"series":"e","depth":22.9,"su":101},{"series":"e","depth":23,"su":103},{"series":"e","depth":23.1,"su":104},{"series":"e","depth":23.2,"su":106},{"series":"e","depth":23.3,"su":107},{"series":"e","depth":23.4,"su":106},{"series":"e","depth":23.5,"su":109},{"series":"e","depth":23.6,"su":108},{"series":"e","depth":23.7,"su":107},{"series":"e","depth":23.76,"su":108},{"series":"e","depth":23.78,"su":64},{"series":"e","depth":23.81,"su":110},{"series":"e","depth":23.9,"su":109},{"series":"e","depth":24,"su":111},{"series":"e","depth":24.1,"su":112},{"series":"e","depth":24.2,"su":110},{"series":"e","depth":24.3,"su":112},{"series":"e","depth":24.4,"su":114},{"series":"e","depth":24.5,"su":112},{"series":"e","depth":24.6,"su":111},{"series":"e","depth":24.7,"su":113}
]
},
"layer": [
{
  "data": {"name": "curves"},
  "encoding": {
    "x": {"field": "su", "type": "quantitative", "scale": {"domain": [0, 150], "nice": false, "zero": false},
      "axis": {"values": [0,10,20,30,40,50,60,70,80,90,100,110,120,130,140,150], "labelExpr": "datum.value % 50 === 0 ? datum.label : ''", "title": "sᵤ,ₐ [kPa]", "grid": true,
        "gridColor": {"condition": {"test": "datum.value % 50 === 0", "value": "#4d4d4d"}, "value": "#a0a0a0"},
        "gridDash": {"condition": {"test": "datum.value % 50 === 0", "value": []}, "value": [1, 3]},
        "gridWidth": 1, "domain": false, "ticks": true, "tickSize": -5, "tickColor": "#444444", "labelFontSize": 19, "labelColor": "#444444", "labelPadding": 23, "labelFlush": false, "labelOverlap": false, "titleFontSize": 17, "titleFontWeight": "normal", "titleColor": "#444444", "titlePadding": 4}},
    "y": {"field": "depth", "type": "quantitative", "scale": {"domain": [0, 25], "reverse": true, "nice": false, "zero": false},
      "axis": {"values": [0,1,2,3,4,5,6,7,8,9,10,11,12,13,14,15,16,17,18,19,20,21,22,23,24,25], "labelExpr": "datum.value % 5 === 0 ? datum.label : ''", "title": null, "grid": true,
        "gridColor": {"condition": {"test": "datum.value % 5 === 0", "value": "#4d4d4d"}, "value": "#a0a0a0"},
        "gridDash": {"condition": {"test": "datum.value % 5 === 0", "value": []}, "value": [1, 3]},
        "gridWidth": 1, "domain": false, "ticks": true, "tickSize": -5, "tickColor": "#444444", "labelFontSize": 19, "labelColor": "#444444", "labelPadding": 15, "labelFlush": false, "labelOverlap": false}},
    "order": {"field": "depth", "type": "quantitative"},
    "color": {"field": "series", "type": "nominal",
      "scale": {"domain": ["a","b","c","d","e","f","g","h"], "range": ["#F5821F", "#1A9A1A", "#1E78FF", "#6A0FD6", "#F58FC6", "#555555", "#CC1122", "#CC1122"]},
      "legend": {"labelExpr": "datum.value === 'a' ? 'Valgt designlinje' : datum.value === 'b' ? 'sᵤ(Nₖₑ) - Paniagua et al. (2019), eq. 8' : datum.value === 'c' ? 'sᵤ(qₙₑₜ,Δᵤ,w) - Paniagua et al. (2019), eq. 1' : datum.value === 'd' ? 'sᵤ(Nₖₜ) - Paniagua et al. (2019), eq. 3' : datum.value === 'e' ? 'sᵤ(Nₖₜ) - Mayne et al. (2022), eq. 1' : datum.value === 'f' ? 'sᵤ(SHANSEP) - Paniagua et al. (2019), eq. 2' : datum.value === 'g' ? \"0.25 * σ'ᵥ₀ * OCR⁰·⁶⁵\" : \"0.35 * σ'ᵥ₀ * OCR⁰·⁷⁵\""}},
    "strokeDash": {"field": "series", "type": "nominal",
      "scale": {"domain": ["a","b","c","d","e","f","g","h"], "range": [[1,0],[1,0],[1,0],[1,0],[1,0],[1,0],[10,7],[10,7]]},
      "legend": {"labelExpr": "datum.value === 'a' ? 'Valgt designlinje' : datum.value === 'b' ? 'sᵤ(Nₖₑ) - Paniagua et al. (2019), eq. 8' : datum.value === 'c' ? 'sᵤ(qₙₑₜ,Δᵤ,w) - Paniagua et al. (2019), eq. 1' : datum.value === 'd' ? 'sᵤ(Nₖₜ) - Paniagua et al. (2019), eq. 3' : datum.value === 'e' ? 'sᵤ(Nₖₜ) - Mayne et al. (2022), eq. 1' : datum.value === 'f' ? 'sᵤ(SHANSEP) - Paniagua et al. (2019), eq. 2' : datum.value === 'g' ? \"0.25 * σ'ᵥ₀ * OCR⁰·⁶⁵\" : \"0.35 * σ'ᵥ₀ * OCR⁰·⁷⁵\""}},
    "strokeWidth": {"field": "series", "type": "nominal",
      "scale": {"type": "ordinal", "domain": ["a","b","c","d","e","f","g","h"], "range": [7, 1.5, 1.5, 1.5, 1.5, 1, 2.5, 2.5]},
      "legend": {"labelExpr": "datum.value === 'a' ? 'Valgt designlinje' : datum.value === 'b' ? 'sᵤ(Nₖₑ) - Paniagua et al. (2019), eq. 8' : datum.value === 'c' ? 'sᵤ(qₙₑₜ,Δᵤ,w) - Paniagua et al. (2019), eq. 1' : datum.value === 'd' ? 'sᵤ(Nₖₜ) - Paniagua et al. (2019), eq. 3' : datum.value === 'e' ? 'sᵤ(Nₖₜ) - Mayne et al. (2022), eq. 1' : datum.value === 'f' ? 'sᵤ(SHANSEP) - Paniagua et al. (2019), eq. 2' : datum.value === 'g' ? \"0.25 * σ'ᵥ₀ * OCR⁰·⁶⁵\" : \"0.35 * σ'ᵥ₀ * OCR⁰·⁷⁵\""}}
  },
  "layer": [
    {"transform": [{"filter": "datum.series === 'b'"}], "mark": {"type": "line", "clip": true, "strokeJoin": "round"}},
    {"transform": [{"filter": "datum.series === 'c'"}], "mark": {"type": "line", "clip": true, "strokeJoin": "round"}},
    {"transform": [{"filter": "datum.series === 'd'"}], "mark": {"type": "line", "clip": true, "strokeJoin": "round"}},
    {"transform": [{"filter": "datum.series === 'e'"}], "mark": {"type": "line", "clip": true, "strokeJoin": "round"}},
    {"transform": [{"filter": "datum.series === 'a'"}], "mark": {"type": "line", "clip": true}},
    {"transform": [{"filter": "datum.series === 'f'"}], "mark": {"type": "line", "clip": true}},
    {"transform": [{"filter": "datum.series === 'g' || datum.series === 'h'"}], "mark": {"type": "line", "clip": true}}
  ]
},
{
  "data": {"name": "levels"},
  "mark": {"type": "rule", "color": "#222222", "strokeWidth": 3, "strokeDash": [13, 10]},
  "encoding": {
    "y": {"field": "depth", "type": "quantitative", "scale": {"domain": [0, 25], "reverse": true, "nice": false, "zero": false},
      "axis": {"values": [0,1,2,3,4,5,6,7,8,9,10,11,12,13,14,15,16,17,18,19,20,21,22,23,24,25], "labelExpr": "datum.value % 5 === 0 ? datum.label : ''", "title": null, "grid": true,
        "gridColor": {"condition": {"test": "datum.value % 5 === 0", "value": "#4d4d4d"}, "value": "#a0a0a0"},
        "gridDash": {"condition": {"test": "datum.value % 5 === 0", "value": []}, "value": [1, 3]},
        "gridWidth": 1, "domain": false, "ticks": true, "tickSize": -5, "tickColor": "#444444", "labelFontSize": 19, "labelColor": "#444444", "labelPadding": 15, "labelFlush": false, "labelOverlap": false}}
  }
}
]
}
